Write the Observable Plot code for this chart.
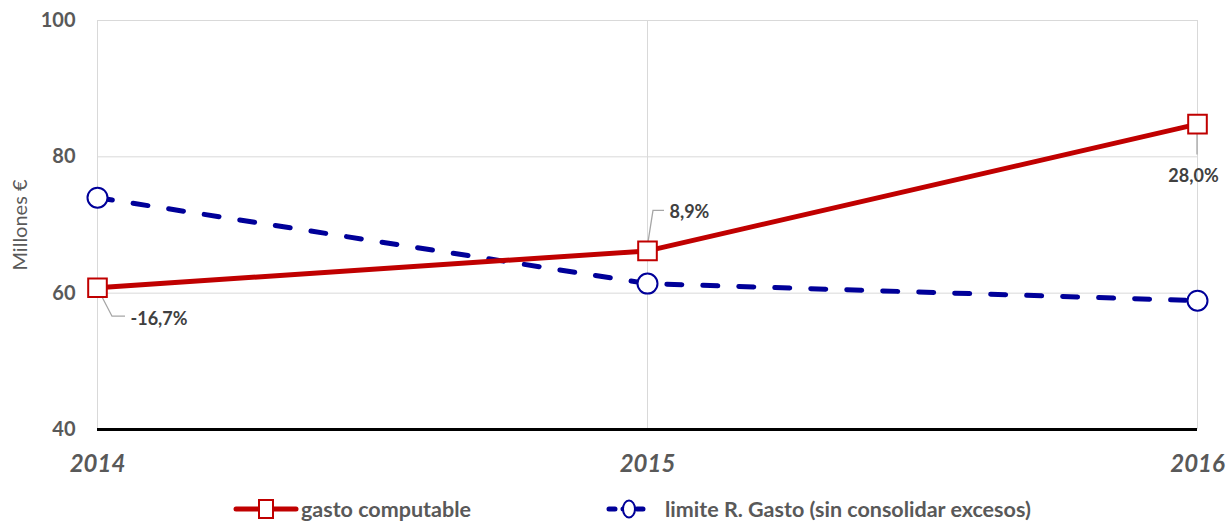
<!DOCTYPE html>
<html>
<head>
<meta charset="utf-8">
<script src="https://cdn.jsdelivr.net/npm/d3@7"></script>
<script src="https://cdn.jsdelivr.net/npm/@observablehq/plot@0.6"></script>
<style>
  html, body { margin: 0; padding: 0; background: #fff; }
  body { width: 1228px; height: 521px; overflow: hidden; font-family: Lato, "Open Sans", sans-serif; }
  #legend { display: flex; justify-content: flex-start; align-items: center; height: 31px; margin-top: 3px; padding-left: 233px; font-weight: bold; font-size: 21.5px; color: #595959; }
  #legend .item { display: flex; align-items: center; }
  #legend svg { display: block; }
</style>
</head>
<body>
<div id="chart"></div>
<div id="legend"></div>
<script>
const years = ["2014", "2015", "2016"];
const gastoComputable = [60.8, 66.2, 84.8];
const limiteGasto = [74.0, 61.4, 58.9];
const variationLabels = ["-16,7%", "8,9%", "28,0%"];
const yTicks = [40, 60, 80, 100];
const seriesNames = ["gasto computable", "limite R. Gasto (sin consolidar excesos)"];
const yLabel = "Millones €";

const RED = "#c00000";
const BLUE = "#000099";

const red = years.map((y, i) => ({year: y, value: gastoComputable[i], label: variationLabels[i]}));
const blue = years.map((y, i) => ({year: y, value: limiteGasto[i]}));

// label offsets in pixels (style)
const labelStyle = [
  {dx: 33, dy: 32, anchor: "start"},
  {dx: 22, dy: -39, anchor: "start"},
  {dx: -4, dy: 52, anchor: "middle"}
];

const plot = Plot.plot({
  width: 1228,
  height: 490,
  marginLeft: 97,
  marginRight: 31,
  marginTop: 20,
  marginBottom: 61,
  style: {fontFamily: "Lato, 'Open Sans', sans-serif", color: "#595959", background: "#fff"},
  x: {type: "point", domain: years, padding: 0},
  y: {domain: [40, 100]},
  marks: [
    Plot.ruleY(yTicks.filter(d => d > 40), {stroke: "#d9d9d9", strokeWidth: 1}),
    Plot.ruleX(years, {stroke: "#d9d9d9", strokeWidth: 1}),
    Plot.ruleY([40], {stroke: "#000", strokeWidth: 3}),
    Plot.axisY({ticks: yTicks, tickSize: 0, tickPadding: 22, fontSize: 20, fontWeight: "bold", label: null}),
    Plot.axisX({tickSize: 0, tickPadding: 25, fontSize: 24, fontWeight: "bold", fontStyle: "italic", label: null}),
    Plot.text([yLabel], {frameAnchor: "left", textAnchor: "middle", dx: -77, rotate: -90, fontSize: 20, fill: "#595959"}),
    Plot.line(blue, {x: "year", y: "value", stroke: BLUE, strokeWidth: 5, strokeDasharray: "15,21", strokeLinecap: "round"}),
    Plot.line(red, {x: "year", y: "value", stroke: RED, strokeWidth: 5}),
    Plot.dot(blue, {x: "year", y: "value", r: 10, symbol: "circle", fill: "#fff", stroke: BLUE, strokeWidth: 2}),
    Plot.dot(red, {x: "year", y: "value", r: 10.5, symbol: "square", fill: "#fff", stroke: RED, strokeWidth: 2}),
    ...red.map((d, i) => Plot.text([d], {x: "year", y: "value", text: "label", dx: labelStyle[i].dx, dy: labelStyle[i].dy, textAnchor: labelStyle[i].anchor, fontSize: 18, fontWeight: "bold", fill: "#404040"}))
  ]
});

// leader lines, positioned from the scales
const sx = plot.scale("x"), sy = plot.scale("y");
const svg = d3.select(plot.tagName === "svg" ? plot : plot.querySelector("svg"));
const leaders = [
  [[0, 0], [15, 29], [28, 29]],
  [[0, -2], [6, -40], [17, -40]],
  [[0, 2], [0, 31]]
];
const g = svg.append("g").attr("fill", "none").attr("stroke", "#a6a6a6").attr("stroke-width", 1.3);
red.forEach((d, i) => {
  const px = sx.apply(d.year), py = sy.apply(d.value);
  g.append("polyline").attr("points", leaders[i].map(([a, b]) => `${px + a},${py + b}`).join(" "));
});
svg.selectAll("g[aria-label='dot']").raise();

document.getElementById("chart").appendChild(plot);

// legend
const legend = document.getElementById("legend");
function item(name, color, dashed, shape, gap) {
  const div = document.createElement("div");
  div.className = "item";
  div.style.marginRight = gap + "px";
  const w = dashed ? 46 : 66;
  const s = d3.create("svg").attr("width", w).attr("height", 24);
  s.append("line").attr("x1", 3).attr("x2", w - 3).attr("y1", 12).attr("y2", 12)
    .attr("stroke", color).attr("stroke-width", 5).attr("stroke-linecap", "round")
    .attr("stroke-dasharray", dashed ? "6,8" : null);
  if (shape === "square") s.append("rect").attr("x", w / 2 - 7).attr("y", 3).attr("width", 14).attr("height", 18).attr("fill", "#fff").attr("stroke", color).attr("stroke-width", 2);
  else s.append("ellipse").attr("cx", w / 2).attr("cy", 12).attr("rx", 6).attr("ry", 8.5).attr("fill", "#fff").attr("stroke", color).attr("stroke-width", 2);
  div.appendChild(s.node());
  const t = document.createElement("span");
  t.textContent = name;
  t.style.marginLeft = dashed ? "13px" : "2px";
  div.appendChild(t);
  return div;
}
const it1 = item(seriesNames[0], RED, false, "square", 0);
legend.appendChild(it1);
const it2 = item(seriesNames[1], BLUE, true, "circle", 0);
legend.appendChild(it2);
// place second item so its symbol starts at x=606
const r1 = it1.getBoundingClientRect();
it2.style.marginLeft = Math.max(10, 606 - r1.right) + "px";
</script>
</body>
</html>
